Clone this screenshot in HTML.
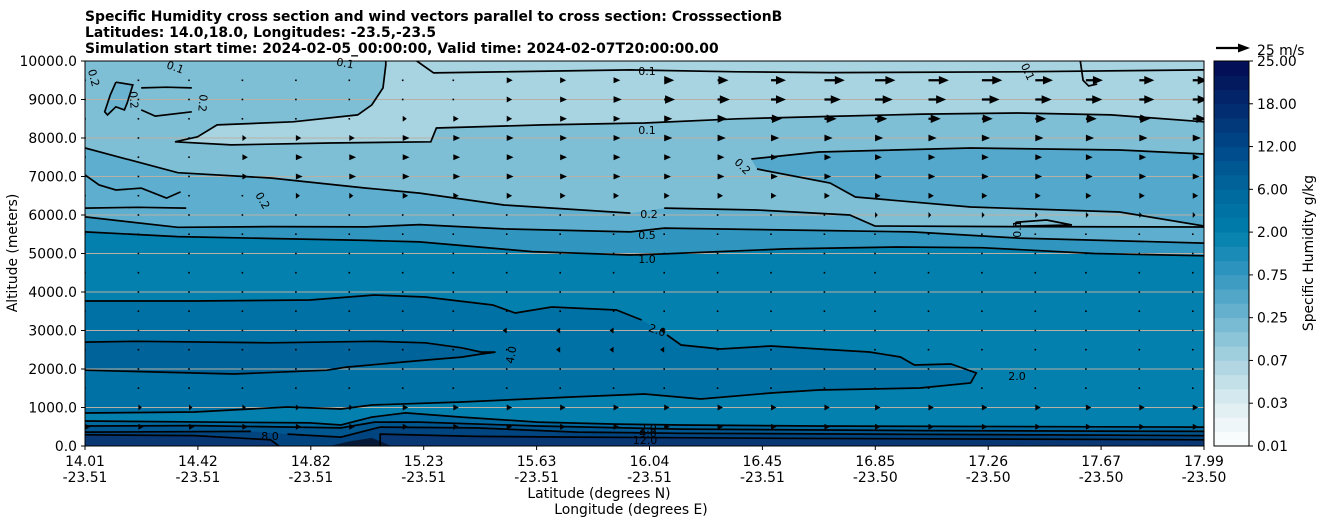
<!DOCTYPE html>
<html><head><meta charset="utf-8"><title>Specific Humidity cross section</title>
<style>
html,body{margin:0;padding:0;background:#fff;}
svg{display:block;font-family:"DejaVu Sans","Liberation Sans",sans-serif;}
</style></head>
<body>
<svg id="chart" width="1326" height="526" viewBox="0 0 1326 526" xmlns="http://www.w3.org/2000/svg">
  <g font-weight="bold" font-size="13.9">
    <text x="85" y="21">Specific Humidity cross section and wind vectors parallel to cross section: CrosssectionB</text>
    <text x="85" y="37">Latitudes: 14.0,18.0, Longitudes: -23.5,-23.5</text>
    <text x="85" y="53">Simulation start time: 2024-02-05_00:00:00, Valid time: 2024-02-07T20:00:00.00</text>
  </g>
  <defs><clipPath id="plotclip"><rect x="85" y="61" width="1119" height="385"/></clipPath></defs>
  <g id="fills" clip-path="url(#plotclip)"></g>
  <g id="grid" clip-path="url(#plotclip)"></g>
  <g id="contours" clip-path="url(#plotclip)" fill="none" stroke="#000" stroke-width="1.7"></g>
  <g id="arrows" clip-path="url(#plotclip)" fill="#000"></g>
  <g id="clabels" font-size="11" fill="#000"></g>
  <rect x="85" y="61" width="1119" height="385" fill="none" stroke="#000" stroke-width="1"/>
  <g id="yaxis" font-size="13.9"></g>
  <g id="xaxis" font-size="13.9"></g>
  <text x="17" y="253" transform="rotate(-90 17 253)" text-anchor="middle" font-size="13.9">Altitude (meters)</text>
  <text x="599" y="498" text-anchor="middle" font-size="13.9">Latitude (degrees N)</text>
  <text x="631" y="514" text-anchor="middle" font-size="13.9">Longitude (degrees E)</text>
  <g>
    <line x1="1216" y1="48" x2="1241" y2="48" stroke="#000" stroke-width="2.2"/>
    <polygon points="1250,48 1238,43.5 1238,52.5" fill="#000"/>
    <text x="1257" y="55" font-size="13.9">25 m/s</text>
  </g>
  <g id="colorbar" font-size="13.9"></g>
  <text x="1313" y="253" transform="rotate(-90 1313 253)" text-anchor="middle" font-size="13.9">Specific Humidity g/kg</text>
</svg>
<script>
// ---- data ----
const yTickValues = [0,1000,2000,3000,4000,5000,6000,7000,8000,9000,10000];
const xTickLats = ["14.01","14.42","14.82","15.23","15.63","16.04","16.45","16.85","17.26","17.67","17.99"];
const xTickLons = ["-23.51","-23.51","-23.51","-23.51","-23.51","-23.51","-23.51","-23.50","-23.50","-23.50","-23.50"];
const colorbarLabels = ["0.01","0.03","0.07","0.25","0.75","2.00","6.00","12.00","18.00","25.00"];

// contour lines as [latitude, altitude m]
const line01Upper = [[15.08,10000],[15.08,9900],[15.07,9300],[15.03,8860],[14.98,8600],[14.75,8420],[14.48,8340],[14.41,8030],[14.33,7900],[14.53,7820],[14.88,7870],[15.24,7900],[15.26,8260],[15.64,8340],[16.00,8390],[16.33,8500],[16.66,8560],[16.99,8620],[17.33,8650],[17.66,8600],[17.99,8420]];
const line01Top = [[15.19,10000],[15.25,9690],[15.95,9770],[16.33,9720],[16.66,9700],[17.33,9720],[17.99,9770]];
const line01RightTop = [[17.55,10000],[17.56,9500],[17.58,9350],[17.61,9400]];
const line01Loop = [[17.32,5810],[17.43,5870],[17.52,5740],[17.32,5710],[17.32,5810]];
const line02Main = [[14.01,7740],[14.34,7100],[14.67,6960],[15.01,6700],[15.20,6570],[15.50,6260],[15.95,6050],[16.07,6180],[16.40,6130],[16.73,6000],[16.82,5714],[17.30,5700],[17.99,5688]];
const line02RightLoop = [[16.38,7455],[16.62,7636],[17.16,7740],[17.69,7688],[17.99,7584],[17.99,5714],[17.69,6078],[17.16,6208],[16.75,6468],[16.66,6831],[16.40,7195]];
const line02ShortA = [[14.01,7040],[14.06,6780],[14.12,6650],[14.21,6700],[14.30,6440],[14.35,6600]];
const line02ShortB = [[14.01,6180],[14.20,6200],[14.37,6180]];
const line02TopLoop = [[14.12,9450],[14.18,9380],[14.16,8910],[14.15,8730],[14.12,8810],[14.09,8600],[14.08,8680],[14.10,9120],[14.12,9450]];
const line02OvalTop = [[14.21,9300],[14.30,9320],[14.39,9300]];
const line02OvalBottom = [[14.21,8730],[14.26,8570],[14.39,8680]];
const line05 = [[14.01,5950],[14.34,5680],[14.67,5700],[15.01,5690],[15.20,5750],[15.50,5640],[15.95,5560],[16.07,5660],[16.60,5600],[16.95,5560],[17.33,5400],[17.99,5270]];
const line10 = [[14.01,5560],[14.34,5440],[14.67,5390],[15.01,5340],[15.20,5300],[15.60,5050],[15.95,4960],[16.07,4990],[16.50,5120],[16.90,5170],[17.20,5150],[17.60,5000],[17.99,4940]];
const line20Closed = [[14.01,3766],[14.40,3766],[14.81,3792],[15.04,3922],[15.22,3870],[15.46,3662],[15.54,3455],[15.67,3610],[15.90,3532],[15.99,3273],[16.08,2883],[16.13,2623],[16.27,2519],[16.45,2597],[16.62,2519],[16.80,2442],[16.91,2312],[16.96,2104],[17.09,2130],[17.18,1896],[17.16,1636],[16.98,1506],[16.62,1455],[16.45,1377],[16.20,1221],[16.00,1351],[15.74,1273],[15.35,1143],[15.03,1065],[14.92,961],[14.73,1013],[14.40,883],[14.01,857]];
const line40Closed = [[14.01,2700],[14.19,2720],[14.67,2680],[15.04,2720],[15.22,2680],[15.35,2550],[15.42,2440],[15.47,2440],[15.42,2390],[15.35,2310],[15.22,2230],[14.94,2050],[14.87,1970],[14.54,1870],[14.01,1970]];
const lineB1 = [[14.01,650],[14.81,600],[14.92,545],[15.03,750],[15.15,860],[15.35,750],[15.62,620],[15.90,570],[16.13,545],[16.60,520],[17.99,490]];
const lineB2 = [[14.01,520],[14.40,530],[14.92,470],[15.04,620],[15.20,620],[15.62,520],[16.13,440],[17.00,400],[17.99,380]];
const lineB3 = [[14.01,360],[14.60,380],[14.73,310],[14.92,230],[15.06,490],[15.40,470],[15.76,360],[16.13,330],[17.99,270]];
const lineB4Left = [[14.01,290],[14.40,270],[14.67,160],[14.70,0]];
const lineB4Right = [[15.06,0],[15.06,310],[15.40,250],[15.76,230],[16.50,200],[17.99,160]];
const terrain = [[14.88,0],[14.95,120],[15.03,210],[15.10,0]];

// wind: column latitudes, row altitudes and u-speeds (m/s)
const colLats = [14.01,14.20,14.38,14.57,14.76,14.95,15.14,15.32,15.51,15.70,15.89,16.07,16.26,16.45,16.64,16.82,17.01,17.20,17.39,17.57,17.76,17.95];
const rowAlts = [9500,9000,8500,8000,7500,7000,6500,6000,5500,5000,4500,4000,3500,3000,2500,2000,1500,1000,500];
const uRows = [
 [0.3,0.3,0.3,0.3,0.3,0.3,0.3,0.5,4.4,4.4,5,7.4,8,11,15,15,15,15,13,12.5,11,11],
 [0.3,0.3,0.3,0.3,0.3,0.3,0.3,0.5,4,5,6,8,9,11,12,13,13,13,12,12,11,11],
 [0.3,0.3,0.3,0.3,0.3,0.3,3,4,4,5,5,6,7,8,9,9,9,8,8,8,8,10],
 [0.3,0.3,0.3,3,4,4,5,5,5,5,5,6,6,6,6,6,6,6,6,6,6,6],
 [0.3,0.5,1,4,5,5,5,5,5,5,5,5,5,5,5,5,5,5,5,5,5,5],
 [0.3,0.5,1,4,5,5,5,5,5,5,5,5,5,5,5,5,5,5,5,5,5,5],
 [0.3,0.3,0.5,1,3,3,4,4,4,4,4,4,4,4,4,4,4,4,4,4,4,4],
 [0.3,0.3,0.3,0.3,0.3,0.3,0.3,0.3,0.3,0.3,0.3,0.3,0.3,0.3,0.3,2,2,2,2,2,2,2],
 [0.3,0.3,0.3,0.3,0.3,0.3,0.3,0.3,0.3,0.3,0.3,0.3,0.3,0.3,0.3,0.3,0.3,0.3,0.3,0.3,0.3,0.3],
 [0.3,0.3,0.3,0.3,0.3,0.3,0.3,0.3,0.3,0.3,0.3,0.3,0.3,0.3,0.3,0.3,0.3,0.3,0.3,0.3,0.3,0.3],
 [0.3,0.3,0.3,0.3,0.3,0.3,0.3,0.3,0.3,0.3,0.3,0.3,0.3,0.3,0.3,0.3,0.3,0.3,0.3,0.3,0.3,0.3],
 [0.3,0.3,0.3,0.3,0.3,0.3,0.3,0.3,0.3,0.3,0.3,0.3,0.3,0.3,0.3,0.3,0.3,0.3,0.3,0.3,0.3,0.3],
 [0.3,0.3,0.3,0.3,0.3,0.3,0.3,0.3,0.3,0.3,0.3,0.3,0.3,0.3,0.3,0.3,0.3,0.3,0.3,0.3,0.3,0.3],
 [0.3,0.3,0.3,0.3,0.3,0.3,0.3,0.3,-3,-3,-3,-3,0.3,0.3,0.3,0.3,0.3,0.3,0.3,0.3,0.3,0.3],
 [0.3,0.3,0.3,0.3,0.3,0.3,0.3,0.3,0.3,-3,-3,-3,0.3,0.3,0.3,0.3,0.3,0.3,0.3,0.3,0.3,0.3],
 [0.3,0.3,0.3,0.3,0.3,0.3,0.3,0.3,0.3,0.3,0.3,0.3,0.3,0.3,0.3,0.3,0.3,0.3,0.3,0.3,0.3,0.3],
 [0.3,0.3,0.3,0.3,0.3,0.3,0.3,0.3,0.3,0.3,0.3,0.3,0.3,0.3,0.3,0.3,0.3,0.3,0.3,0.3,0.3,0.3],
 [0.3,2.5,2.5,2.5,2.5,2.5,4,4,4,4,4,4,4,4,4,4,4,4,4,4,4,4],
 [4,4,4,4,4,4,4,4,4,4,4,4,4,4,4,4,4,4,4,4,4,4]
];

// ---- scales ----
const NS = "http://www.w3.org/2000/svg";
const X0 = 85, X1 = 1204, Y0 = 446, Y1 = 61;
const latMin = 14.01, latMax = 17.99, altMax = 10000;
function xScale(lat){ return X0 + (lat - latMin) / (latMax - latMin) * (X1 - X0); }
function yScale(alt){ return Y0 - alt / altMax * (Y0 - Y1); }
function pts(arr){ return arr.map(p => xScale(p[0]).toFixed(1) + "," + yScale(p[1]).toFixed(1)).join(" "); }
function mk(tag, parent){ const e = document.createElementNS(NS, tag); parent.appendChild(e); return e; }

// ---- fills ----
const fills = document.getElementById("fills");
function rectFill(color, name){
  const r = mk("rect", fills);
  r.setAttribute("x", X0); r.setAttribute("y", Y1); r.setAttribute("width", X1 - X0); r.setAttribute("height", Y0 - Y1);
  r.setAttribute("fill", color);
  
  
}
function belowFill(line, color, name){
  const arr = line.concat([[line[line.length-1][0], 0], [line[0][0], 0]]);
  const p = mk("polygon", fills);
  p.setAttribute("points", pts(arr)); p.setAttribute("fill", color);
  
  
}
function closedFill(line, color, name){
  const p = mk("polygon", fills);
  p.setAttribute("points", pts(line)); p.setAttribute("fill", color);
  
  
}
rectFill("#a8d3e1", "band-above-0-1");
belowFill([[latMin, 10000]].concat(line01Upper), "#7fbfd6", "band-0-1-to-0-2");
closedFill(line02TopLoop, "#6ab4d1", "band-0-2-loop");
belowFill(line02Main, "#5eafcf", "band-0-2-to-0-5");
closedFill(line02RightLoop, "#53a8cb", "band-0-2-right-loop");
belowFill(line05, "#3096bf", "band-0-5-to-1-0");
belowFill(line10, "#0380ad", "band-1-0-to-2-0");
closedFill(line20Closed, "#0071a4", "band-2-0-to-4-0");
closedFill(line40Closed, "#00639a", "band-above-4-0");
belowFill(lineB1, "#006aa0", "band-surface-2-0");
belowFill(lineB2, "#00568f", "band-surface-4-0");
belowFill(lineB3, "#00457f", "band-surface-8-0");
belowFill(lineB4Left, "#083774", "band-surface-12-left");
belowFill(lineB4Right, "#083774", "band-surface-12-right");
closedFill(terrain, "#061a38", "terrain");

// ---- grid ----
const grid = document.getElementById("grid");
yTickValues.forEach(v => {
  if (v === 0 || v === altMax) return;
  const l = mk("line", grid);
  l.setAttribute("x1", X0); l.setAttribute("x2", X1);
  l.setAttribute("y1", yScale(v)); l.setAttribute("y2", yScale(v));
  l.setAttribute("stroke", "#b8b0a4"); l.setAttribute("stroke-width", "1");
  
  
});

// ---- contour lines ----
const contours = document.getElementById("contours");
function drawLine(line, name){
  const pl = mk("polyline", contours);
  pl.setAttribute("points", pts(line));
  
  
}
drawLine(line01Upper, "contour-0-1-upper");
drawLine(line01Top, "contour-0-1-top");
drawLine(line01RightTop, "contour-0-1-right-top");
drawLine(line01Loop, "contour-0-1-loop");
drawLine(line02Main.slice(0,7), "contour-0-2-left");
drawLine(line02Main.slice(7), "contour-0-2-right");
drawLine(line02RightLoop, "contour-0-2-right-loop");
drawLine(line02ShortA, "contour-0-2-short-a");
drawLine(line02ShortB, "contour-0-2-short-b");
drawLine(line02TopLoop, "contour-0-2-top-loop");
drawLine(line02OvalTop, "contour-0-2-oval-top");
drawLine(line02OvalBottom, "contour-0-2-oval-bottom");
drawLine(line05, "contour-0-5");
drawLine(line10, "contour-1-0");
drawLine(line20Closed.slice(0,10), "contour-2-0-upper-left");
drawLine(line20Closed.slice(10), "contour-2-0-rest");
drawLine(line40Closed, "contour-4-0");
drawLine(lineB1, "contour-surface-2-0");
drawLine(lineB2, "contour-surface-4-0");
drawLine(lineB3.slice(0,2), "contour-surface-8-0-left");
drawLine(lineB3.slice(2), "contour-surface-8-0-right");
drawLine(lineB4Left, "contour-surface-12-left");
drawLine(lineB4Right, "contour-surface-12-right");

// ---- wind vectors ----
const arrows = document.getElementById("arrows");
const pxPerMs = 34 / 25;
rowAlts.forEach((alt, r) => {
  colLats.forEach((lat, k) => {
    const u = uRows[r][k];
    const x = xScale(lat), y = yScale(alt);
    const L = u * pxPerMs;
    if (Math.abs(L) < 1.5) {
      const d = mk("rect", arrows);
      d.setAttribute("x", (x - 0.8).toFixed(1)); d.setAttribute("y", (y - 0.8).toFixed(1));
      d.setAttribute("width", "1.6"); d.setAttribute("height", "1.6");
      
      
      return;
    }
    const s = Math.sign(L), a = Math.abs(L);
    const hl = Math.min(a, 10), hw = Math.max(3, hl * 0.42);
    const tip = x + L, base = tip - s * hl;
    const g = mk("polygon", arrows);
    let p = tip + "," + y + " " + base + "," + (y - hw) + " " + base + "," + (y + hw);
    if (a > hl) {
      p = tip + "," + y + " " + base + "," + (y - hw) + " " + base + "," + (y - 1.1) + " " + x + "," + (y - 1.1) + " " + x + "," + (y + 1.1) + " " + base + "," + (y + 1.1) + " " + base + "," + (y + hw);
    }
    g.setAttribute("points", p);
    
    
  });
});

// ---- contour labels ----
const clabels = document.getElementById("clabels");
const labelDefs = [
  ["0.1",647,72,0],["0.1",647,131,0],["0.2",649,215,0],["0.5",647,236,0],["1.0",647,260,0],
  ["2.0",657,331,20],["4.0",512,355,-80],["2.0",1017,377,0],["0.2",742,167,45],["0.1",1018,229,-90],
  ["0.1",1027,72,65],["0.2",93,78,75],["0.2",133,100,85],["0.2",202,103,95],["0.2",262,201,60],
  ["0.1",175,68,20],["0.1",345,64,10],["8.0",270,437,0],["2.0",648,429,0],["4.0",648,434,0],["12.0",645,441,0]
];
labelDefs.forEach(d => {
  const t = mk("text", clabels);
  t.setAttribute("x", d[1]); t.setAttribute("y", d[2]);
  t.setAttribute("text-anchor", "middle");
  t.setAttribute("dominant-baseline", "middle");
  if (d[3]) t.setAttribute("transform", "rotate(" + d[3] + " " + d[1] + " " + d[2] + ")");
  t.textContent = d[0];
  
  
});

// ---- y axis ----
const yaxis = document.getElementById("yaxis");
yTickValues.forEach(v => {
  const y = yScale(v);
  const tk = mk("line", yaxis);
  tk.setAttribute("x1", X0 - 4); tk.setAttribute("x2", X0); tk.setAttribute("y1", y); tk.setAttribute("y2", y);
  tk.setAttribute("stroke", "#000");
  
  
  const t = mk("text", yaxis);
  t.setAttribute("x", X0 - 8); t.setAttribute("y", y + 5); t.setAttribute("text-anchor", "end");
  t.textContent = v.toFixed(1);
  
  
});

// ---- x axis ----
const xaxis = document.getElementById("xaxis");
xTickLats.forEach((lat, i) => {
  const x = i === xTickLats.length - 1 ? X1 : X0 + i * 112.9;
  const tk = mk("line", xaxis);
  tk.setAttribute("x1", x); tk.setAttribute("x2", x); tk.setAttribute("y1", Y0); tk.setAttribute("y2", Y0 + 4);
  tk.setAttribute("stroke", "#000");
  
  
  const t1 = mk("text", xaxis);
  t1.setAttribute("x", x); t1.setAttribute("y", 466); t1.setAttribute("text-anchor", "middle");
  t1.textContent = lat;
  
  
  const t2 = mk("text", xaxis);
  t2.setAttribute("x", x); t2.setAttribute("y", 482); t2.setAttribute("text-anchor", "middle");
  t2.textContent = xTickLons[i];
  
  
});

// ---- colorbar ----
const cb = document.getElementById("colorbar");
const CBX = 1214, CBW = 35, nBands = 27;
const stops = ["#ffffff","#dcedf2","#a9d3e0","#6fb6d0","#3497c0","#007fab","#00679c","#00488a","#03296c","#030a52"];
function hex(c){ return [parseInt(c.slice(1,3),16), parseInt(c.slice(3,5),16), parseInt(c.slice(5,7),16)]; }
function interp(t){
  const f = t * (stops.length - 1), i = Math.min(Math.floor(f), stops.length - 2), w = f - i;
  const a = hex(stops[i]), b = hex(stops[i+1]);
  return "rgb(" + a.map((v, j) => Math.round(v + (b[j] - v) * w)).join(",") + ")";
}
const bandH = (Y0 - Y1) / nBands;
for (let b = 0; b < nBands; b++) {
  const r = mk("rect", cb);
  r.setAttribute("x", CBX); r.setAttribute("width", CBW);
  r.setAttribute("y", (Y0 - (b + 1) * bandH).toFixed(2)); r.setAttribute("height", (bandH + 0.4).toFixed(2));
  r.setAttribute("fill", interp((b + 0.5) / nBands));
  
  
}
const cbFrame = mk("rect", cb);
cbFrame.setAttribute("x", CBX); cbFrame.setAttribute("y", Y1); cbFrame.setAttribute("width", CBW); cbFrame.setAttribute("height", Y0 - Y1);
cbFrame.setAttribute("fill", "none"); cbFrame.setAttribute("stroke", "#000");


colorbarLabels.forEach((lab, i) => {
  const y = Y0 - i * (Y0 - Y1) / (colorbarLabels.length - 1);
  const tk = mk("line", cb);
  tk.setAttribute("x1", CBX + CBW); tk.setAttribute("x2", CBX + CBW + 4); tk.setAttribute("y1", y); tk.setAttribute("y2", y);
  tk.setAttribute("stroke", "#000");
  
  
  const t = mk("text", cb);
  t.setAttribute("x", CBX + CBW + 8); t.setAttribute("y", y + 5);
  t.textContent = lab;
  
  
});
</script>
</body></html>
